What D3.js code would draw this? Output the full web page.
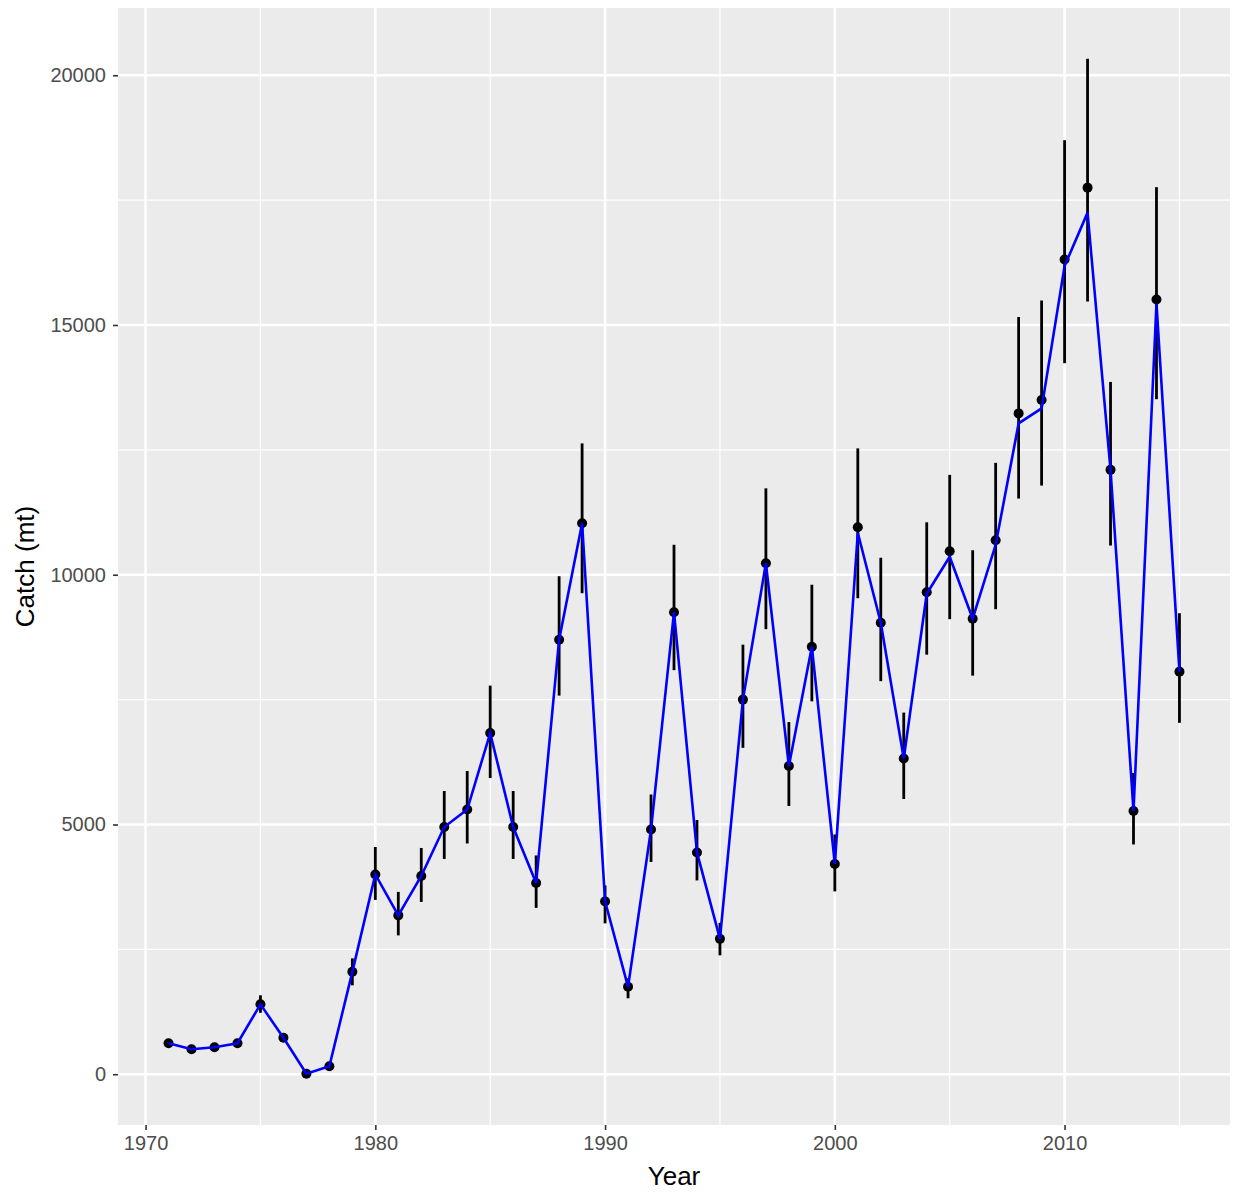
<!DOCTYPE html>
<html>
<head>
<meta charset="utf-8">
<script src="https://cdn.jsdelivr.net/npm/d3@7"></script>
<style>
  body { margin: 0; background: #fff; }
  text { font-family: "Liberation Sans", Arial, sans-serif; }
</style>
</head>
<body>
<div id="plot"></div>
<script>
// catch by year, with error bar bounds and the fitted (blue) line
const years = d3.range(1971, 2016);
const catchObs = [620, 500, 540, 620, 1400, 730, 10, 160, 2050, 4000,
    3180, 3970, 4950, 5300, 6830, 4950, 3830, 8700, 11030, 3460,
    1750, 4900, 9250, 4440, 2710, 7500, 10230, 6170, 8560, 4210,
    10950, 9040, 6320, 9650, 10470, 9120, 10690, 13230, 13500, 16310,
    17750, 12100, 5270, 15510, 8060];
const catchLow = [560, 450, 490, 560, 1230, 660, 0, 130, 1780, 3490,
    2780, 3450, 4310, 4620, 5930, 4310, 3330, 7580, 9630, 3020,
    1520, 4250, 8090, 3880, 2380, 6535, 8910, 5370, 7465, 3660,
    9530, 7870, 5510, 8400, 9110, 7980, 9310, 11525, 11785, 14235,
    15470, 10585, 4600, 13515, 7035];
const catchHigh = [680, 550, 590, 680, 1580, 800, 20, 190, 2320, 4550,
    3650, 4530, 5670, 6070, 7780, 5670, 4380, 9970, 12630, 3780,
    1920, 5600, 10600, 5090, 3030, 8600, 11730, 7050, 9800, 4800,
    12530, 10340, 7240, 11050, 12000, 10490, 12240, 15160, 15490, 18700,
    20330, 13860, 6030, 17760, 9230];
const fitted = [620, 500, 540, 620, 1400, 730, 10, 160, 2050, 4000,
    3180, 3970, 4950, 5300, 6830, 4950, 3830, 8700, 11030, 3460,
    1750, 4900, 9250, 4440, 2710, 7500, 10230, 6170, 8560, 4210,
    10840, 9040, 6320, 9620, 10360, 9120, 10600, 13030, 13330, 16180,
    17250, 12100, 5270, 15430, 8060];
const xTicks = [1970, 1980, 1990, 2000, 2010];
const yTicks = [0, 5000, 10000, 15000, 20000];

const W = 1233, H = 1193;
const margin = {top: 8, right: 3, bottom: 68, left: 118};
const width = W - margin.left - margin.right,
    height = H - margin.top - margin.bottom;

const data = years.map((yr, i) => ({
    year: yr, value: catchObs[i], lo: catchLow[i], hi: catchHigh[i], fit: fitted[i]
}));

const svg = d3.select("#plot")
    .append("svg")
    .attr("width", W)
    .attr("height", H);

const g = svg.append("g")
    .attr("transform", `translate(${margin.left},${margin.top})`);

// ggplot-style 5% expansion
function expand(ext) {
    const pad = (ext[1] - ext[0]) * 0.05;
    return [ext[0] - pad, ext[1] + pad];
}

const x = d3.scaleLinear()
    .domain(expand(d3.extent(years)))
    .range([0, width]);

const y = d3.scaleLinear()
    .domain(expand([d3.min(catchLow), d3.max(catchHigh)]))
    .range([height, 0]);

g.append("rect")
    .attr("width", width)
    .attr("height", height)
    .attr("fill", "#ebebeb");

// minor grid
const xMinor = [1975, 1985, 1995, 2005, 2015];
const yMinor = [2500, 7500, 12500, 17500];
g.selectAll(".xminor").data(xMinor).enter().append("line")
    .attr("x1", d => x(d)).attr("x2", d => x(d))
    .attr("y1", 0).attr("y2", height)
    .attr("stroke", "#fff").attr("stroke-width", 1.2);
g.selectAll(".yminor").data(yMinor).enter().append("line")
    .attr("x1", 0).attr("x2", width)
    .attr("y1", d => y(d)).attr("y2", d => y(d))
    .attr("stroke", "#fff").attr("stroke-width", 1.2);

// major grid
g.selectAll(".xmajor").data(xTicks).enter().append("line")
    .attr("x1", d => x(d)).attr("x2", d => x(d))
    .attr("y1", 0).attr("y2", height)
    .attr("stroke", "#fff").attr("stroke-width", 2.6);
g.selectAll(".ymajor").data(yTicks).enter().append("line")
    .attr("x1", 0).attr("x2", width)
    .attr("y1", d => y(d)).attr("y2", d => y(d))
    .attr("stroke", "#fff").attr("stroke-width", 2.6);

// axes
const xAxis = g.append("g")
    .attr("transform", `translate(0,${height})`)
    .call(d3.axisBottom(x).tickValues(xTicks).tickFormat(d3.format("d"))
        .tickSize(5).tickPadding(6));
const yAxis = g.append("g")
    .call(d3.axisLeft(y).tickValues(yTicks).tickFormat(d3.format("d"))
        .tickSize(5).tickPadding(7));

[xAxis, yAxis].forEach(ax => {
    ax.select(".domain").remove();
    ax.selectAll(".tick line").attr("stroke", "#333").attr("stroke-width", 1.6);
    ax.selectAll(".tick text")
        .attr("fill", "#4d4d4d")
        .style("font-size", "20px")
        .style("font-family", "'Liberation Sans', Arial, sans-serif");
});

// error bars
g.selectAll(".err").data(data).enter().append("line")
    .attr("x1", d => x(d.year)).attr("x2", d => x(d.year))
    .attr("y1", d => y(d.lo)).attr("y2", d => y(d.hi))
    .attr("stroke", "#000").attr("stroke-width", 2.8);

// points
g.selectAll(".pt").data(data).enter().append("circle")
    .attr("cx", d => x(d.year))
    .attr("cy", d => y(d.value))
    .attr("r", 5)
    .attr("fill", "#000");

// fitted line
g.append("path")
    .datum(data)
    .attr("fill", "none")
    .attr("stroke", "#0000ff")
    .attr("stroke-width", 2.6)
    .attr("d", d3.line()
        .x(d => x(d.year))
        .y(d => y(d.fit)));

// axis titles
svg.append("text")
    .attr("x", margin.left + width / 2)
    .attr("y", 1185)
    .attr("text-anchor", "middle")
    .style("font-size", "26px")
    .attr("fill", "#000")
    .text("Year");

svg.append("text")
    .attr("transform", `translate(34,${margin.top + height / 2}) rotate(-90)`)
    .attr("text-anchor", "middle")
    .style("font-size", "26px")
    .attr("fill", "#000")
    .text("Catch (mt)");
</script>
</body>
</html>
